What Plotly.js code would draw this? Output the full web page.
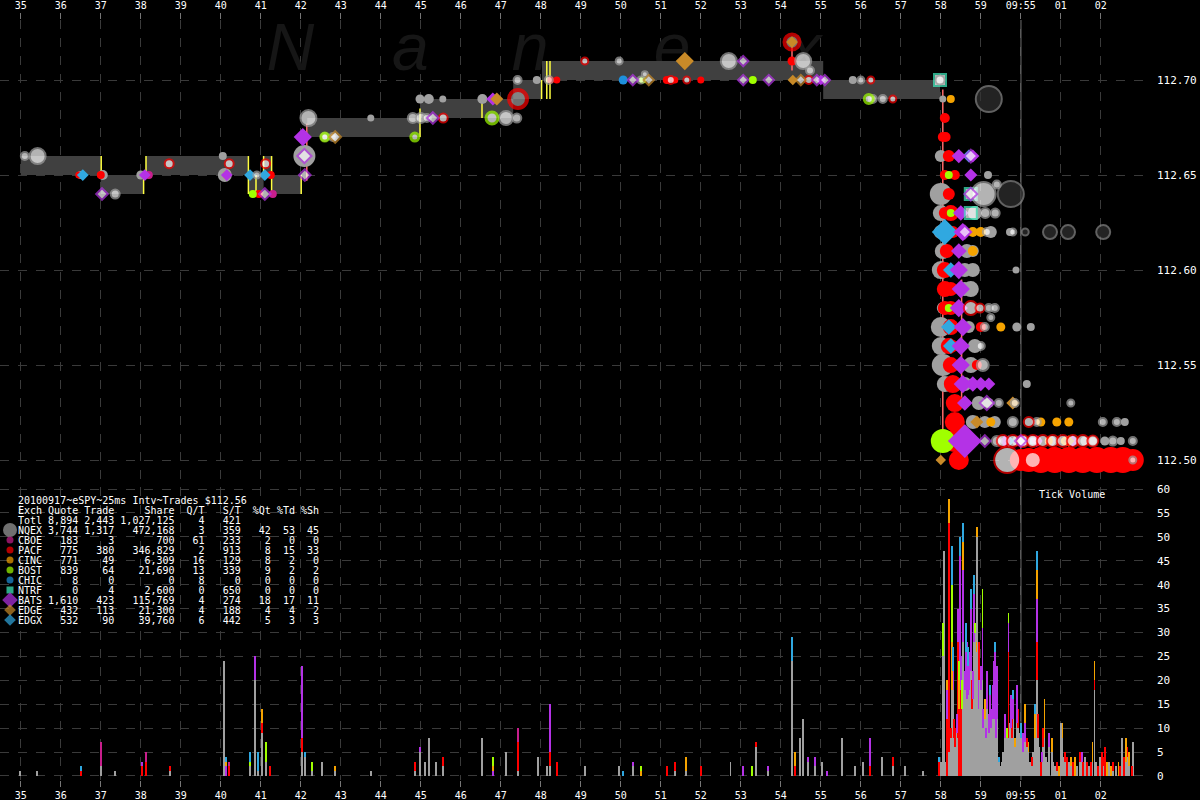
<!DOCTYPE html>
<html><head><meta charset="utf-8">
<script src="https://cdn.plot.ly/plotly-3.0.1.min.js"></script>
<style>html,body{margin:0;padding:0;background:#000;}#chart{width:1200px;height:800px;}</style>
</head><body><div id="chart"></div>
<script>
// ---------- axes (seconds after 09:54:00) ----------
const tickSeconds = [35,36,37,38,39,40,41,42,43,44,45,46,47,48,49,50,51,52,53,54,55,56,57,58,59,60,61,62];
const tickLabels = ['35','36','37','38','39','40','41','42','43','44','45','46','47','48','49','50','51','52','53','54','55','56','57','58','59','09:55','01','02'];
const markSecond = 60;
const priceTicks = [112.50,112.55,112.60,112.65,112.70];
const priceTickLabels = ['112.50','112.55','112.60','112.65','112.70'];
const volTicks = [0,5,10,15,20,25,30,35,40,45,50,55,60];

// ---------- NBBO band ----------
const bandStart = [35.00,37.00,38.13,40.69,41.07,41.27,42.16,44.98,47.31,48.03,55.06];
const bandEnd   = [37.00,38.07,40.69,41.07,41.27,42.02,44.98,47.31,48.03,55.06,57.98];
const bandBid   = [112.65,112.64,112.65,112.64,112.65,112.64,112.67,112.68,112.69,112.70,112.69];
const bandAsk   = [112.66,112.65,112.66,112.65,112.66,112.65,112.68,112.69,112.70,112.71,112.70];

// ---------- vertical connector lines ----------
const yellowT  = [37.01,38.07,38.13,40.69,40.88,41.07,41.27,42.01,44.98,46.53,48.02,48.15,48.23];
const yellowLo = [112.65,112.64,112.65,112.64,112.64,112.65,112.64,112.64,112.67,112.68,112.69,112.69,112.69];
const yellowHi = [112.66,112.65,112.66,112.66,112.65,112.66,112.66,112.65,112.685,112.69,112.70,112.71,112.71];
const pinkT  = [42.15,54.28,58.05,58.52];
const pinkLo = [112.647,112.705,112.51,112.53];
const pinkHi = [112.677,112.72,112.695,112.595];

// ---------- quotes / trades [second, price, size] ----------
const nqexQuotes = [[36.50,112.65,8],[37.05,112.65,10],[38.00,112.65,9],[40.05,112.66,8],[40.10,112.65,14],[42.09,112.66,22],[42.05,112.67,8],[43.75,112.68,7],[44.98,112.69,9],[45.20,112.69,10],[45.55,112.69,7],[46.54,112.69,10],[47.90,112.70,8],[55.80,112.70,8],[58.05,112.69,7],
 [58.00,112.66,12],[59.18,112.65,8],[58.00,112.64,22],[58.00,112.63,16],[58.85,112.63,14],[58.00,112.62,14],[59.25,112.62,12],[59.73,112.62,8],[58.05,112.61,16],[58.65,112.61,14],[58.80,112.61,12],[58.00,112.60,18],[58.60,112.60,14],[58.80,112.60,14],[59.88,112.60,7],[58.60,112.59,14],[58.75,112.59,16],[58.05,112.58,12],[58.00,112.57,20],[58.70,112.57,12],[59.90,112.57,9],[60.25,112.57,8],[58.00,112.56,18],[58.85,112.56,14],[58.05,112.55,22],[58.75,112.55,16],[58.10,112.54,16],[58.60,112.54,14],[60.15,112.54,8],[58.95,112.53,14],[59.20,112.53,10],[58.80,112.52,14],[59.10,112.52,12],[59.35,112.52,12],[62.60,112.52,8],[59.90,112.51,10],[60.40,112.51,10],[60.75,112.51,10],[61.15,112.51,10],[61.60,112.51,9],[62.10,112.51,9],[62.50,112.51,8]];
const nqexTrades = [[35.10,112.66,8],[35.42,112.66,16],[37.36,112.64,9],[40.90,112.65,7],[42.60,112.67,8],[42.80,112.67,8],[42.19,112.68,16],[44.80,112.68,10],[45.00,112.68,10],[45.15,112.68,8],[47.13,112.68,14],[47.40,112.68,9],[47.42,112.70,8],[48.20,112.70,8],[49.96,112.71,7],[52.70,112.71,16],[54.56,112.71,16],[54.73,112.705,8],[50.50,112.70,7],[50.60,112.703,6],[56.00,112.70,7],[56.30,112.69,8],[56.55,112.69,8],[57.98,112.70,9],
 [59.07,112.64,24],[59.40,112.645,8],[59.11,112.63,10],[59.36,112.63,9],[59.15,112.62,8],[59.80,112.62,7],[59.20,112.58,8],[59.35,112.58,8],[59.25,112.575,7],[59.10,112.57,8],[59.00,112.56,8],[59.05,112.55,12],[59.45,112.53,8],[59.85,112.53,8],[61.25,112.53,7],[59.80,112.52,10],[60.40,112.52,8],[62.05,112.52,8],[62.40,112.52,8],[59.40,112.51,10],[60.05,112.51,10],[60.30,112.51,9],[61.80,112.51,9],[62.30,112.51,9],[62.80,112.51,8],[62.80,112.50,7]];
const pacfQuotes = [[36.45,112.65,7],[37.00,112.65,8],[41.25,112.65,8],[40.95,112.64,8],[48.25,112.70,7],[48.40,112.70,7],[51.15,112.70,8],[51.35,112.70,7],[52.00,112.70,7],[54.28,112.71,9],
 [58.10,112.68,10],[58.05,112.67,10],[58.12,112.67,10],[58.20,112.66,12],[58.10,112.65,10],[58.35,112.65,10],[58.20,112.64,12],[58.10,112.63,12],[58.25,112.63,16],[58.30,112.62,12],[58.15,112.61,14],[58.10,112.60,16],[58.10,112.59,16],[58.25,112.59,14],[58.10,112.58,14],[58.25,112.58,14],[58.25,112.57,16],[59.00,112.57,10],[58.20,112.56,16],[58.30,112.56,12],[58.25,112.55,16],[58.90,112.55,10],[58.30,112.54,18],[58.35,112.53,18],[58.35,112.52,20],[58.35,112.51,22],[58.45,112.50,20],[60.00,112.50,22],[60.20,112.50,24],[60.50,112.50,26],[60.85,112.50,26],[61.20,112.50,26],[61.55,112.50,26],[61.90,112.50,26],[62.25,112.50,26],[62.55,112.50,26],[62.80,112.50,22]];
const pacfTrades = [[38.71,112.656,9],[40.21,112.656,9],[41.12,112.656,9],[45.56,112.68,9],[49.10,112.71,7],[51.25,112.70,8],[51.65,112.70,7],[54.70,112.70,8],[56.25,112.70,7],[56.80,112.69,7],
 [58.75,112.58,14],[58.98,112.58,9],[60.20,112.52,10],[59.55,112.51,12],[59.80,112.51,12],[60.05,112.51,12],[60.30,112.51,12],[60.55,112.51,12],[60.80,112.51,12],[61.05,112.51,12],[61.30,112.51,12],[61.55,112.51,12],[61.80,112.51,11],[59.66,112.50,26],[60.30,112.50,16]];
const pacfRings = [[47.43,112.69,18],[54.28,112.72,15]];
const batsQuotes = [[38.10,112.65,9],[40.15,112.65,9],[42.05,112.67,14],[46.80,112.69,10],[55.00,112.70,8],
 [58.45,112.66,11],[58.80,112.66,10],[58.75,112.65,10],[58.50,112.63,12],[58.55,112.62,14],[58.45,112.61,12],[58.45,112.60,14],[58.50,112.59,14],[58.45,112.58,14],[58.55,112.57,14],[58.50,112.56,14],[58.50,112.55,14],[58.55,112.54,14],[58.80,112.54,12],[59.00,112.54,11],[59.20,112.54,10],[58.60,112.53,12],[58.60,112.51,26],[59.60,112.51,9],[60.40,112.51,9],[61.30,112.51,9]];
const batsTrades = [[37.03,112.64,9],[42.09,112.66,11],[42.10,112.65,9],[41.10,112.64,9],[45.30,112.68,9],[53.06,112.71,8],[50.30,112.70,8],[53.06,112.70,8],[53.70,112.70,8],[54.90,112.70,8],[55.10,112.70,8],
 [58.75,112.66,10],[58.75,112.64,10],[58.60,112.62,10],[59.15,112.53,11],[59.10,112.51,9],[60.00,112.51,9]];
const edgeQuotes = [[46.90,112.69,10],[51.60,112.71,14],[54.28,112.72,9],[54.30,112.70,8],[59.80,112.53,10],[58.90,112.52,10],[61.20,112.51,9],[58.00,112.50,8]];
const edgeTrades = [[42.86,112.67,9],[50.70,112.70,8],[54.50,112.70,8]];
const edgxQuotes = [[36.55,112.65,9],[40.73,112.65,9],[41.10,112.65,9],[58.70,112.66,10],[58.10,112.62,20],[58.25,112.60,12],[58.20,112.57,12],[58.25,112.56,12],[59.70,112.51,9],[60.10,112.51,9],[60.25,112.51,9]];
const chicQuotes = [[50.06,112.70,9]];
const bostQuotes = [[40.80,112.64,8],[53.30,112.70,8],[50.55,112.70,7],[58.20,112.65,8],[58.25,112.63,8],[58.30,112.60,8],[58.20,112.58,8],[58.05,112.51,24]];
const bostTrades = [[42.60,112.67,8],[44.85,112.67,8],[46.78,112.68,12],[56.20,112.69,9]];
const cboeQuotes = [[38.20,112.65,8],[41.30,112.64,8]];
const cincQuotes = [[40.15,112.65,8],[58.25,112.69,8],[58.80,112.62,10],[59.00,112.62,10],[58.80,112.61,10],[59.50,112.57,9],[59.25,112.52,9],[60.50,112.52,9],[60.90,112.52,9],[61.20,112.52,9],[60.70,112.51,8],[61.10,112.51,8]];
const ntrfQuotes = [[57.98,112.70,12],[58.75,112.64,12],[58.75,112.63,12]];
const darkPrints = [[59.20,112.69,26],[59.75,112.64,26],[60.11,112.62,7],[60.73,112.62,14],[61.18,112.62,14],[62.06,112.62,14]];

// ---------- tick volume [second, count] per exchange ----------
const nqexVol = [[34.97,1],[35.41,1],[37.01,2],[37.36,1],[38.73,1],[40.08,24],[40.73,2],[40.86,20],[40.93,1],[41.03,9],[41.13,3],[42.03,5],[42.10,4],[42.28,1],[42.53,3],[42.86,1],[43.76,1],[44.86,1],[44.98,5],[45.10,3],[45.21,8],[45.38,3],[45.56,2],[46.53,8],[47.13,5],[47.43,1],[47.93,4],[48.16,2],[48.23,2],[49.11,2],[49.96,2],[50.31,2],[51.36,1],[51.63,1],[52.74,3],[53.38,6],[53.68,1],[54.28,24],[54.48,8],[54.56,12],[54.68,3],[54.86,2],[55.03,3],[55.53,8],[55.86,2],[56.06,3],[56.53,4],[56.81,2],[57.11,2],[57.56,1],
 [58.01,3],[58.05,25],[58.07,47],[58.11,3],[58.18,5],[58.21,5],[58.25,8],[58.27,18],[58.30,18],[58.33,8],[58.36,6],[58.40,9],[58.42,8],[58.47,18],[58.53,14],[58.56,28],[58.60,18],[58.62,20],[58.65,16],[58.68,17],[58.71,18],[58.75,22],[58.77,14],[58.80,16],[58.83,28],[58.86,30],[58.89,26],[58.91,50],[58.94,14],[58.96,20],[59.00,18],[59.04,20],[59.06,10],[59.10,12],[59.13,8],[59.16,14],[59.20,9],[59.23,12],[59.26,10],[59.30,12],[59.33,12],[59.36,14],[59.38,8],[59.41,12],[59.45,3],[59.48,2],[59.52,3],[59.56,5],[59.61,8],[59.65,8],[59.69,8],[59.71,11],[59.75,10],[59.78,8],[59.81,12],[59.86,6],[59.90,11],[59.93,10],[59.96,9],[60.00,8],[60.03,5],[60.06,5],[60.11,7],[60.15,6],[60.19,5],[60.23,3],[60.27,2],[60.31,5],[60.36,8],[60.40,20],[60.43,8],[60.46,6],[60.53,3],[60.56,6],[60.59,8],[60.63,4],[60.66,3],[60.71,6],[60.77,5],[60.81,3],[60.86,2],[60.91,1],[61.01,11],[61.04,8],[61.08,4],[61.11,3],[61.21,3],[61.26,2],[61.41,2],[61.48,3],[61.52,3],[61.61,4],[61.70,2],[61.79,3],[61.84,18],[61.88,3],[61.98,4],[62.06,2],[62.20,3],[62.31,1],[62.38,2],[62.52,8],[62.63,3],[62.66,4],[62.71,2],[62.81,7]];
const pacfVol = [[36.51,1],[38.03,2],[38.13,3],[38.73,1],[40.21,2],[41.03,2],[41.23,2],[42.03,3],[44.86,2],[45.56,2],[47.43,6],[48.23,3],[48.40,3],[51.16,2],[51.36,2],[52.01,2],[53.38,1],[54.36,2],[56.23,2],[56.81,2],
 [57.96,3],[58.15,12],[58.18,10],[58.21,48],[58.25,2],[58.33,4],[58.36,4],[58.42,20],[58.45,14],[58.47,6],[58.50,18],[58.77,6],[58.96,8],[59.69,18],[59.78,4],[59.93,4],[60.15,2],[60.27,2],[60.40,8],[60.43,5],[60.50,3],[60.56,4],[60.91,2],[61.11,2],[61.16,4],[61.31,3],[61.48,2],[61.56,3],[61.65,3],[61.75,3],[61.84,2],[61.93,2],[62.03,5],[62.06,2],[62.11,6],[62.31,2],[62.48,2],[62.58,4],[62.66,2],[62.77,2]];
const batsVol = [[38.03,1],[40.13,2],[40.86,5],[42.03,15],[44.98,1],[46.80,1],[48.23,10],[50.31,1],[53.06,2],[53.68,1],[54.68,1],[54.86,2],[55.16,1],[56.23,6],
 [58.15,6],[58.30,4],[58.40,4],[58.42,7],[58.47,22],[58.50,7],[58.56,15],[58.60,4],[58.62,6],[58.65,12],[58.68,6],[58.71,8],[58.75,13],[58.80,6],[58.83,10],[58.94,6],[59.00,5],[59.04,11],[59.06,4],[59.13,2],[59.16,8],[59.20,4],[59.23,5],[59.26,4],[59.30,7],[59.33,12],[59.36,12],[59.38,15],[59.41,11],[59.61,5],[59.69,6],[59.75,7],[59.81,4],[59.90,8],[60.06,4],[60.11,4],[60.40,9],[60.53,2],[60.71,3],[61.52,2]];
const cincVol = [[40.13,1],[41.03,3],[42.86,1],[46.80,1],[50.50,1],[51.63,3],[54.36,3],
 [58.15,2],[58.21,5],[58.27,10],[58.45,6],[58.56,6],[58.89,2],[58.91,2],[59.10,4],[59.86,2],[60.11,4],[60.19,2],[60.36,5],[60.40,6],[60.59,8],[60.77,3],[60.96,2],[61.04,3],[61.26,2],[61.36,4],[61.79,4],[61.84,4],[62.15,3],[62.25,2],[62.44,3],[62.63,5],[62.71,3]];
const bostVol = [[40.73,1],[41.13,4],[42.28,2],[46.80,2],[50.50,1],[53.28,2],[58.05,7],[58.27,12],[58.45,4],[58.53,6],[58.86,2],[59.04,8],[59.65,2],[59.69,2]];
const edgxVol = [[36.51,1],[40.13,1],[40.73,2],[40.93,4],[42.10,1],[50.06,1],[54.28,5],[57.96,1],[58.27,8],[58.30,5],[58.47,4],[58.56,4],[58.62,6],[58.68,4],[58.75,4],[58.83,4],[59.23,2],[59.36,2],[59.45,1],[59.81,2],[60.00,3],[60.36,2],[60.40,4]];
const cboeVol = [[37.01,5],[38.13,2],[40.21,1],[47.43,3]];

// ---------- summary table ----------
const legendTitle = '20100917~eSPY~25ms Intv~Trades $112.56';
const legendHeader = ['Exch','Quote','Trade','Share','Q/T','S/T','%Qt','%Td','%Sh'];
const legendExch  = ['Totl','NQEX','CBOE','PACF','CINC','BOST','CHIC','NTRF','BATS','EDGE','EDGX'];
const legendQuote = ['8,894','3,744','183','775','771','839','8','0','1,610','432','532'];
const legendTrade = ['2,443','1,317','3','380','49','64','0','4','423','113','90'];
const legendShare = ['1,027,125','472,168','700','346,829','6,309','21,690','0','2,600','115,769','21,300','39,760'];
const legendQT  = ['4','3','61','2','16','13','8','0','4','4','6'];
const legendST  = ['421','359','233','913','129','339','0','650','274','188','442'];
const legendPQt = ['','42','2','8','8','9','0','0','18','4','5'];
const legendPTd = ['','53','0','15','2','2','0','0','17','4','3'];
const legendPSh = ['','45','0','33','0','2','0','0','11','2','3'];
const watermarkLetters = ['N','a','n','e','x'];
const watermarkT = [41.74,44.74,47.73,51.28,54.60];
const watermarkP = [112.714,112.714,112.714,112.714,112.714];

// ---------- styles ----------
const STY = {
  NQEX:{color:'#a0a0a0',symbol:'circle',leg:14},
  CBOE:{color:'#c81e8c',symbol:'circle',leg:7},
  PACF:{color:'#ff0000',symbol:'circle',leg:7},
  CINC:{color:'#f5a300',symbol:'circle',leg:7},
  BOST:{color:'#a0ff00',symbol:'circle',leg:7},
  CHIC:{color:'#1e90dc',symbol:'circle',leg:7},
  NTRF:{color:'#40f0c0',symbol:'square',leg:7},
  BATS:{color:'#b432e6',symbol:'diamond',leg:12},
  EDGE:{color:'#c88a28',symbol:'diamond',leg:9},
  EDGX:{color:'#30a8e0',symbol:'diamond',leg:9}
};
const MONO = 'DejaVu Sans Mono';

function quoteTrace(arr, ex, extra){
  const s = STY[ex];
  return Object.assign({type:'scatter',mode:'markers',xaxis:'x2',yaxis:'y',hoverinfo:'skip',
    x:arr.map(a=>a[0]), y:arr.map(a=>a[1]),
    marker:{size:arr.map(a=>a[2]),color:s.color,symbol:s.symbol,line:{width:0},opacity:1}}, extra||{});
}
function tradeTrace(arr, ex, lw){
  const s = STY[ex];
  return {type:'scatter',mode:'markers',xaxis:'x2',yaxis:'y',hoverinfo:'skip',
    x:arr.map(a=>a[0]), y:arr.map(a=>a[1]),
    marker:{size:arr.map(a=>a[2]),color:'#ffffff',symbol:s.symbol,line:{width:lw||2,color:s.color}}};
}
function volTrace(arr, ex){
  return {type:'bar',xaxis:'x',yaxis:'y2',hoverinfo:'skip',
    x:arr.map(a=>a[0]), y:arr.map(a=>a[1]), width:0.045,
    marker:{color:STY[ex].color,line:{width:0}}};
}

const traces = [];
// watermark (behind everything)
traces.push({type:'scatter',mode:'text',xaxis:'x2',yaxis:'y',hoverinfo:'skip',
  x:watermarkT,y:watermarkP,text:watermarkLetters,textposition:'middle center',
  textfont:{family:'Liberation Sans',size:66,color:'#161616',style:'italic'}});
// band
const bx=[],by=[];
for(let i=0;i<bandStart.length;i++){
  bx.push(bandStart[i],bandEnd[i],bandEnd[i],bandStart[i],bandStart[i],null);
  by.push(bandBid[i],bandBid[i],bandAsk[i],bandAsk[i],bandBid[i],null);
}
traces.push({type:'scatter',mode:'lines',xaxis:'x2',yaxis:'y',hoverinfo:'skip',x:bx,y:by,
  fill:'toself',fillcolor:'#404040',line:{width:0,color:'rgba(0,0,0,0)'}});
// connector lines
function vlines(T,L,H,color){
  const x=[],y=[];
  for(let i=0;i<T.length;i++){x.push(T[i],T[i],null);y.push(L[i],H[i],null);}
  return {type:'scatter',mode:'lines',xaxis:'x2',yaxis:'y',hoverinfo:'skip',x:x,y:y,line:{color:color,width:1.5}};
}
traces.push(vlines(yellowT,yellowLo,yellowHi,'#ffff40'));
traces.push(vlines(pinkT,pinkLo,pinkHi,'#ff6a6a'));
// dark prints
traces.push({type:'scatter',mode:'markers',xaxis:'x2',yaxis:'y',hoverinfo:'skip',
  x:darkPrints.map(a=>a[0]),y:darkPrints.map(a=>a[1]),
  marker:{size:darkPrints.map(a=>a[2]),color:'#333333',line:{width:2,color:'#8a8a8a'}}});
traces.push(quoteTrace(nqexQuotes,'NQEX'));
traces.push(quoteTrace(pacfQuotes,'PACF'));
traces.push({type:'scatter',mode:'markers',xaxis:'x2',yaxis:'y',hoverinfo:'skip',
  x:pacfRings.map(a=>a[0]),y:pacfRings.map(a=>a[1]),
  marker:{size:pacfRings.map(a=>a[2]),color:'#a0a0a0',line:{width:4,color:'#ff0000'}}});
traces.push(quoteTrace(bostQuotes,'BOST'));
traces.push(quoteTrace(cboeQuotes,'CBOE'));
traces.push(quoteTrace(cincQuotes,'CINC'));
traces.push(quoteTrace(chicQuotes,'CHIC'));
traces.push(quoteTrace(edgxQuotes,'EDGX'));
traces.push(quoteTrace(batsQuotes,'BATS'));
traces.push(quoteTrace(edgeQuotes,'EDGE'));
traces.push({type:'scatter',mode:'markers',xaxis:'x2',yaxis:'y',hoverinfo:'skip',
  x:ntrfQuotes.map(a=>a[0]),y:ntrfQuotes.map(a=>a[1]),
  marker:{size:ntrfQuotes.map(a=>a[2]),color:'#ffffff',symbol:'square',line:{width:2,color:STY.NTRF.color}}});
traces.push(tradeTrace(nqexTrades,'NQEX',2));
traces.push(tradeTrace(pacfTrades,'PACF',2));
traces.push(tradeTrace(bostTrades,'BOST',3));
traces.push(tradeTrace(batsTrades,'BATS',2));
traces.push(tradeTrace(edgeTrades,'EDGE',2));
// volume stacks
traces.push(volTrace(nqexVol,'NQEX'));
traces.push(volTrace(pacfVol,'PACF'));
traces.push(volTrace(batsVol,'BATS'));
traces.push(volTrace(cincVol,'CINC'));
traces.push(volTrace(bostVol,'BOST'));
traces.push(volTrace(edgxVol,'EDGX'));
traces.push(volTrace(cboeVol,'CBOE'));

// summary table text (pixel overlay axes)
const NB = s => s.replace(/ /g,'\u00a0');
const fmtRow = r => r[0].padEnd(4)+r[1].padStart(6)+r[2].padStart(6)+r[3].padStart(10)+r[4].padStart(5)+r[5].padStart(6)+r[6].padStart(5)+r[7].padStart(4)+r[8].padStart(4);
const lines = [legendTitle, fmtRow(legendHeader)];
for(let i=0;i<legendExch.length;i++){
  lines.push(fmtRow([legendExch[i],legendQuote[i],legendTrade[i],legendShare[i],legendQT[i],legendST[i],legendPQt[i],legendPTd[i],legendPSh[i]]));
}
const annotations = lines.map((t,i)=>({xref:'x3',yref:'y3',x:17,y:500+10*i,text:NB(t),showarrow:false,
  xanchor:'left',yanchor:'middle',font:{family:MONO,size:10,color:'#ffffff'},borderpad:0}));
annotations.push({xref:'x3',yref:'y3',x:1038,y:494,text:NB('Tick Volume'),showarrow:false,xanchor:'left',yanchor:'middle',
  font:{family:MONO,size:10,color:'#ffffff'},borderpad:0});
const legEx = legendExch.slice(1);
traces.push({type:'scatter',mode:'markers',xaxis:'x3',yaxis:'y3',hoverinfo:'skip',
  x:legEx.map(()=>10), y:legEx.map((e,i)=>530+10*i),
  marker:{color:legEx.map(e=>STY[e].color),symbol:legEx.map(e=>STY[e].symbol),size:legEx.map(e=>STY[e].leg),line:{width:0}}});

const gridDash = {showgrid:true,gridcolor:'#3a3a3a',griddash:'dash',gridwidth:1,zeroline:false,showline:false};
const xr = [34.48,63.23];
const layout = {
  width:1200,height:800,paper_bgcolor:'#000000',plot_bgcolor:'rgba(0,0,0,0)',
  margin:{l:0,r:50,t:20,b:20},showlegend:false,hovermode:false,barmode:'stack',
  font:{family:MONO,color:'#ffffff',size:10},
  xaxis:Object.assign({domain:[0,1],anchor:'y2',range:xr,tickmode:'array',tickvals:tickSeconds,ticktext:tickLabels,
    ticks:'outside',ticklen:6,tickcolor:'#777',tickfont:{family:MONO,size:10,color:'#ffffff'}},gridDash),
  xaxis2:Object.assign({domain:[0,1],anchor:'y',side:'top',matches:'x',range:xr,tickmode:'array',tickvals:tickSeconds,ticktext:tickLabels,
    ticks:'outside',ticklen:6,tickcolor:'#777',tickfont:{family:MONO,size:10,color:'#ffffff'}},gridDash),
  yaxis:Object.assign({domain:[0.3855,1],anchor:'x2',side:'right',range:[112.4858,112.7316],tickmode:'array',
    tickvals:priceTicks,ticktext:priceTickLabels,ticks:'',ticklabelstandoff:6,tickfont:{family:MONO,size:11,color:'#ffffff'}},gridDash),
  yaxis2:Object.assign({domain:[0,0.3855],anchor:'x',side:'right',range:[-0.84,60.42],tickmode:'array',
    tickvals:volTicks,ticks:'',ticklabelstandoff:6,tickfont:{family:MONO,size:11,color:'#ffffff'}},gridDash),
  xaxis3:{domain:[0,1],anchor:'y3',range:[0,1150],visible:false,fixedrange:true},
  yaxis3:{domain:[0,1],anchor:'x3',range:[780,20],visible:false,fixedrange:true},
  shapes:[{type:'line',xref:'x',yref:'paper',x0:markSecond,x1:markSecond,y0:0,y1:1,layer:'below',line:{color:'#5e5e5e',width:1.5}}],
  annotations:annotations
};
Plotly.newPlot('chart',traces,layout,{staticPlot:true,displayModeBar:false});
</script></body></html>
